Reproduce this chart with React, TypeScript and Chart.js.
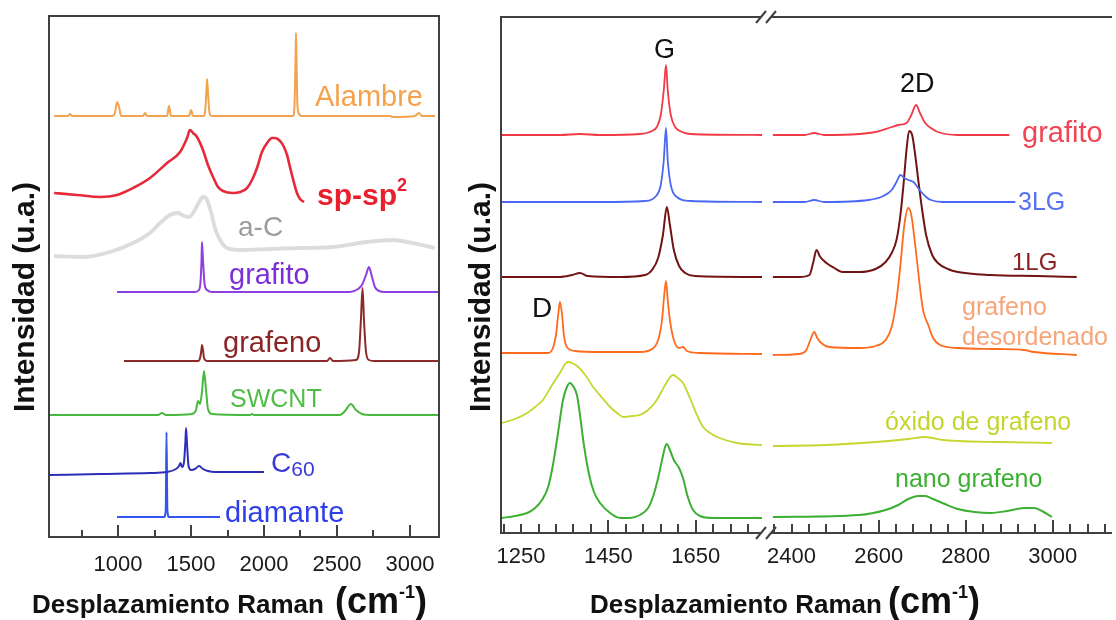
import React, { useEffect, useRef } from "react";
import { Chart, registerables } from "chart.js";
Chart.register(...registerables);

type Pt = [number, number];
const FONT = '"Liberation Sans", Arial, Helvetica, sans-serif';

// ---------- LEFT PANEL (x: Raman shift cm-1, y: stacked intensity, a.u.) ----------
const alambre: Pt[] = [[562,421],[658,421],[671,423],[685,421],[959,421],[979,424],[993,435],[1007,430],[1021,421],[1171,421],[1185,424],[1199,421],[1336,421],[1349,431],[1363,421],[1486,421],[1500,427],[1514,421],[1589,421],[1596,425],[1606,447],[1610,458],[1616,445],[1627,424],[1644,421],[2199,421],[2209,432],[2216,477],[2219,504],[2223,477],[2229,432],[2240,423],[2260,421],[2863,421],[2884,420],[3034,421],[3062,424],[3082,421],[3171,421]];
const spsp2: Pt[] = [[562,344],[719,342],[877,340],[993,342],[1103,349],[1219,359],[1336,374],[1425,385],[1473,399],[1493,407],[1514,404],[1541,400],[1582,387],[1616,372],[1651,360],[1685,350],[1719,346],[1788,344],[1836,345],[1884,349],[1918,357],[1952,369],[1986,385],[2021,394],[2055,399],[2075,399],[2103,397],[2130,392],[2158,382],[2178,370],[2206,354],[2226,344],[2247,338],[2274,335]];
const aC: Pt[] = [[562,281],[760,280],[945,285],[1103,294],[1219,304],[1288,314],[1356,322],[1411,324],[1452,321],[1486,320],[1514,324],[1548,333],[1582,340],[1610,337],[1637,325],[1664,309],[1699,297],[1747,289],[1836,287],[2041,288],[2247,289],[2473,290],[2705,295],[2884,297],[3048,293],[3171,289]];
const grafitoL: Pt[] = [[993,245],[1527,245],[1555,247],[1565,255],[1572,277],[1575,295],[1582,277],[1593,253],[1610,247],[1644,245],[2589,245],[2644,248],[2671,252],[2699,262],[2719,270],[2740,260],[2760,250],[2788,246],[2829,245],[3192,245]];
const grafenoL: Pt[] = [[1041,176],[1548,176],[1562,179],[1572,188],[1575,192],[1582,187],[1589,179],[1610,176],[2432,176],[2452,179],[2473,176],[2630,177],[2651,185],[2664,217],[2675,249],[2685,217],[2699,185],[2719,177],[2753,176],[3192,176]];
const swcnt: Pt[] = [[534,122],[1014,122],[1274,122],[1301,124],[1329,122],[1507,123],[1534,127],[1548,136],[1562,133],[1575,145],[1589,166],[1603,147],[1616,128],[1644,123],[1904,122],[1918,123],[1932,122],[2521,122],[2555,126],[2596,133],[2630,127],[2671,123],[2726,122],[3192,122]];
const c60: Pt[] = [[534,62],[877,63],[1219,64],[1336,65],[1397,68],[1418,71],[1428,74],[1438,70],[1452,75],[1462,97],[1466,109],[1473,92],[1483,71],[1500,67],[1527,68],[1555,71],[1582,68],[1616,66],[1664,65],[2000,65]];
const diamante: Pt[] = [[993,20],[1315,20],[1327,27],[1332,105],[1338,27],[1349,20],[1699,20]];

const leftTicks = [750, 1000, 1250, 1500, 1750, 2000, 2250, 2500, 2750, 3000];
const leftTickLabels = [1000, 1500, 2000, 2500, 3000];

// ---------- RIGHT PANEL, segment A (1204-1802) and segment B (2355-3136) ----------
const grafitoRA: Pt[] = [[1204,398],[1339,398],[1385,399],[1431,398],[1522,399],[1550,402],[1561,406],[1570,418],[1577,443],[1582,468],[1586,443],[1593,418],[1603,406],[1614,402],[1637,399],[1802,398]];
const grafitoRB: Pt[] = [[2357,398],[2430,398],[2452,400],[2475,398],[2555,399],[2593,401],[2630,406],[2645,408],[2664,410],[2675,418],[2686,428],[2695,420],[2707,410],[2720,405],[2736,401],[2782,398],[2900,398]];
const lg3A: Pt[] = [[1204,331],[1431,331],[1534,332],[1557,336],[1570,348],[1577,373],[1582,405],[1586,373],[1593,348],[1607,336],[1637,332],[1802,331]];
const lg3B: Pt[] = [[2357,331],[2430,331],[2452,333],[2475,331],[2577,333],[2611,337],[2630,343],[2641,351],[2650,358],[2659,355],[2668,353],[2680,351],[2689,346],[2698,341],[2709,336],[2720,333],[2748,331],[2914,331]];
const lg1A: Pt[] = [[1204,256],[1339,256],[1367,258],[1385,260],[1403,257],[1477,256],[1534,258],[1550,263],[1564,275],[1575,298],[1584,326],[1591,308],[1600,283],[1612,267],[1626,260],[1648,257],[1802,256]];
const lg1B: Pt[] = [[2357,256],[2418,256],[2441,258],[2450,271],[2457,283],[2466,276],[2480,270],[2498,265],[2516,261],[2555,261],[2593,264],[2616,271],[2630,280],[2641,293],[2650,318],[2657,348],[2664,383],[2670,402],[2677,398],[2684,378],[2691,353],[2700,323],[2709,298],[2723,278],[2736,270],[2759,264],[2782,261],[2857,258],[2964,257],[3055,256]];
const desordA: Pt[] = [[1206,180],[1312,180],[1323,185],[1330,198],[1335,218],[1339,231],[1344,218],[1348,198],[1355,186],[1374,182],[1431,181],[1522,181],[1550,184],[1564,193],[1573,213],[1577,233],[1582,252],[1586,233],[1591,213],[1600,193],[1612,185],[1621,186],[1630,182],[1660,180],[1802,179]];
const desordB: Pt[] = [[2357,178],[2418,179],[2434,183],[2443,193],[2452,201],[2459,195],[2468,190],[2486,186],[2555,185],[2593,187],[2616,193],[2630,206],[2641,233],[2650,268],[2659,308],[2668,325],[2675,318],[2684,288],[2693,253],[2702,223],[2714,208],[2725,195],[2741,188],[2782,185],[2873,184],[2934,183],[2957,181],[3055,178]];
const oxidoA: Pt[] = [[1206,110],[1236,114],[1264,120],[1282,126],[1300,133],[1321,148],[1339,160],[1351,169],[1358,171],[1367,170],[1381,166],[1397,158],[1415,146],[1436,135],[1454,126],[1470,120],[1484,116],[1504,117],[1522,118],[1541,123],[1561,133],[1580,148],[1598,158],[1609,155],[1621,150],[1637,135],[1653,118],[1667,106],[1683,100],[1699,96],[1745,90],[1802,88]];
const oxidoB: Pt[] = [[2357,87],[2480,88],[2593,91],[2668,94],[2707,96],[2748,93],[2782,92],[2873,91],[2998,90]];
const nanoA: Pt[] = [[1206,15],[1236,17],[1264,20],[1282,25],[1298,33],[1312,46],[1323,68],[1335,101],[1346,133],[1355,146],[1362,150],[1369,147],[1378,138],[1385,118],[1394,88],[1406,58],[1417,41],[1431,30],[1454,20],[1477,15],[1500,15],[1522,18],[1541,25],[1552,36],[1564,55],[1573,73],[1580,86],[1584,89],[1591,83],[1600,73],[1612,65],[1621,55],[1632,36],[1644,23],[1660,17],[1690,15],[1802,15]];
const nanoB: Pt[] = [[2357,16],[2555,18],[2616,23],[2645,28],[2668,34],[2691,37],[2707,37],[2725,34],[2752,29],[2782,24],[2820,21],[2857,20],[2895,22],[2934,25],[2957,25],[2975,22],[2998,16]];

const ticksA = [1210, 1250, 1290, 1330, 1370, 1410, 1450, 1490, 1530, 1570, 1610, 1650, 1690, 1730, 1770];
const tickLabelsA = [1250, 1450, 1650];
const majorA = [1450, 1650];
const ticksB = [2360, 2400, 2440, 2480, 2520, 2560, 2600, 2640, 2680, 2720, 2760, 2800, 2840, 2880, 2920, 2960, 3000, 3040, 3080, 3120];
const tickLabelsB = [2400, 2600, 2800, 3000];
const majorB = [2600, 2800, 3000];

// ---------- styles ----------
interface SeriesDef { data: Pt[]; color: string; width: number }
const leftSeries: SeriesDef[] = [
  { data: aC, color: "#DCDCDC", width: 3.8 },
  { data: alambre, color: "#F2A34F", width: 2 },
  { data: spsp2, color: "#E52B3A", width: 2.6 },
  { data: grafitoL, color: "#8E3FE0", width: 2 },
  { data: grafenoL, color: "#8C2A2A", width: 2 },
  { data: swcnt, color: "#48B93E", width: 2 },
  { data: c60, color: "#2E2EB8", width: 2 },
  { data: diamante, color: "#3355EE", width: 2 },
];
const rightSeriesA: SeriesDef[] = [
  { data: grafitoRA, color: "#F03A46", width: 1.8 },
  { data: lg3A, color: "#4A68F2", width: 1.8 },
  { data: lg1A, color: "#701414", width: 2 },
  { data: desordA, color: "#FF6A1C", width: 1.8 },
  { data: oxidoA, color: "#C6D62E", width: 1.8 },
  { data: nanoA, color: "#3DB034", width: 2 },
];
const rightSeriesB: SeriesDef[] = [
  { data: grafitoRB, color: "#F03A46", width: 1.8 },
  { data: lg3B, color: "#4A68F2", width: 1.8 },
  { data: desordB, color: "#FF6A1C", width: 1.8 },
  { data: lg1B, color: "#701414", width: 2 },
  { data: oxidoB, color: "#C6D62E", width: 1.8 },
  { data: nanoB, color: "#3DB034", width: 2 },
];

interface PanelProps {
  left: number; width: number; height: number;
  pad: { left: number; right: number; top: number; bottom: number };
  xMin: number; xMax: number; yMax: number;
  series: SeriesDef[];
  ticks: number[]; labels: number[]; major: number[];
  majorLen: number; minorLen: number; labelPad: number; mode: string;
}

function makeFramePlugin(p: PanelProps) {
  return {
    id: "frame",
    afterDraw(chart: any) {
      const { ctx, chartArea: a } = chart;
      const xs = chart.scales.x;
      ctx.save();
      ctx.strokeStyle = "#404040";
      ctx.lineWidth = 2;
      const seg = (x1: number, y1: number, x2: number, y2: number) => {
        ctx.beginPath(); ctx.moveTo(x1, y1); ctx.lineTo(x2, y2); ctx.stroke();
      };
      const slash = (cx: number, cy: number) => seg(cx - 5, cy + 6, cx + 5, cy - 6);
      if (p.mode === "box") {
        ctx.strokeRect(a.left, a.top, a.right - a.left, a.bottom - a.top);
      } else if (p.mode === "breakRight") {
        const r = a.right - 1;
        seg(a.left, a.top - 1, a.left, a.bottom + 1);
        seg(a.left - 1, a.top, r, a.top);
        seg(a.left - 1, a.bottom, r, a.bottom);
        slash(r, a.top); slash(r, a.bottom);
      } else {
        const l = a.left - 1;
        seg(l, a.top, a.right, a.top);
        seg(l, a.bottom, a.right, a.bottom);
        slash(l, a.top); slash(l, a.bottom);
      }
      ctx.lineWidth = 2;
      for (const v of p.ticks) {
        const px = Math.round(xs.getPixelForValue(v));
        const len = p.major.indexOf(v) >= 0 ? p.majorLen : p.minorLen;
        seg(px, a.bottom - 1, px, a.bottom - 1 - len);
      }
      ctx.restore();
    },
  };
}

function Panel(p: PanelProps) {
  const ref = useRef<HTMLCanvasElement>(null);
  useEffect(() => {
    const chart = new Chart(ref.current as HTMLCanvasElement, {
      type: "line",
      data: {
        datasets: p.series.map((s) => ({
          data: s.data.map(([x, y]) => ({ x, y })),
          borderColor: s.color,
          borderWidth: s.width,
          pointRadius: 0,
          fill: false,
          cubicInterpolationMode: "monotone",
        })),
      },
      options: {
        animation: false,
        responsive: false,
        maintainAspectRatio: false,
        devicePixelRatio: 1,
        events: [],
        layout: { padding: p.pad },
        plugins: { legend: { display: false }, tooltip: { enabled: false } },
        scales: {
          x: {
            type: "linear",
            min: p.xMin,
            max: p.xMax,
            afterBuildTicks: (s: any) => { s.ticks = p.ticks.map((v) => ({ value: v })); },
            afterFit: (s: any) => { s.height = 45; },
            grid: { display: false, drawTicks: false },
            border: { display: false },
            ticks: {
              autoSkip: false, maxRotation: 0, minRotation: 0,
              padding: p.labelPad, color: "#1a1a1a",
              font: { family: FONT, size: 22 },
              callback: (v: any) => (p.labels.includes(Number(v)) ? String(v) : ""),
            },
          } as any,
          y: { display: false, min: 0, max: p.yMax },
        },
      },
      plugins: [makeFramePlugin(p) as any],
    });
    return () => chart.destroy();
  }, []);
  return (
    <canvas ref={ref} width={p.width} height={p.height}
      style={{ position: "absolute", left: p.left, top: 0, width: p.width, height: p.height }} />
  );
}

function Lbl(props: { x: number; b: number; s: number; c: string; bold?: boolean; children: React.ReactNode }) {
  return (
    <div style={{
      position: "absolute", left: props.x, top: props.b - 0.8465 * props.s, fontSize: props.s,
      lineHeight: 1, color: props.c, fontWeight: props.bold ? "bold" : "normal", whiteSpace: "nowrap", fontFamily: FONT,
    }}>{props.children}</div>
  );
}

function YTitle({ cx, cy }: { cx: number; cy: number }) {
  return (
    <div style={{
      position: "absolute", left: cx, top: cy, transform: "translate(-50%,-50%) rotate(-90deg)",
      fontSize: 30, fontWeight: "bold", lineHeight: 1, whiteSpace: "nowrap", color: "#111", fontFamily: FONT,
    }}>Intensidad (u.a.)</div>
  );
}

function XTitle({ x1, x2, b }: { x1: number; x2: number; b: number }) {
  return (
    <>
      <Lbl x={x1} b={b} s={26} c="#111" bold>Desplazamiento Raman</Lbl>
      <Lbl x={x2} b={b} s={36} c="#111" bold>
        (cm<span style={{ fontSize: 18, position: "relative", top: -15 }}>-1</span>)
      </Lbl>
    </>
  );
}

export default function App() {
  return (
    <div style={{ position: "fixed", left: 0, top: 0, width: 1116, height: 620, background: "#fff", overflow: "hidden", fontFamily: FONT }}>
      <Panel left={0} width={460} height={620} pad={{ left: 49, right: 21, top: 16, bottom: 38 }}
        xMin={527} xMax={3199} yMax={521} series={leftSeries}
        ticks={leftTicks} labels={leftTickLabels} major={leftTickLabels}
        majorLen={11} minorLen={6} labelPad={15} mode="box" />
      <Panel left={460} width={310} height={620} pad={{ left: 41, right: 8, top: 17, bottom: 42 }}
        xMin={1204} xMax={1802} yMax={516} series={rightSeriesA}
        ticks={ticksA} labels={tickLabelsA} major={majorA}
        majorLen={12} minorLen={8} labelPad={11} mode="breakRight" />
      <Panel left={760} width={356} height={620} pad={{ left: 12, right: 0, top: 17, bottom: 42 }}
        xMin={2355} xMax={3136} yMax={516} series={rightSeriesB}
        ticks={ticksB} labels={tickLabelsB} major={majorB}
        majorLen={12} minorLen={8} labelPad={11} mode="breakLeft" />

      {/* left panel labels */}
      <Lbl x={315} b={107} s={29} c="#F4A24C">Alambre</Lbl>
      <Lbl x={317} b={205} s={30} c="#E8202E" bold>
        sp-sp<span style={{ fontSize: 18, position: "relative", top: -14 }}>2</span>
      </Lbl>
      <Lbl x={238} b={237} s={28} c="#9C9C9C">a-C</Lbl>
      <Lbl x={229} b={285} s={29} c="#7B2FD6">grafito</Lbl>
      <Lbl x={223} b={353} s={29} c="#8B2525">grafeno</Lbl>
      <Lbl x={230} b={407} s={25} c="#50BE46">SWCNT</Lbl>
      <Lbl x={271} b={473} s={28} c="#3A3AD8">
        C<span style={{ fontSize: 21, position: "relative", top: 4 }}>60</span>
      </Lbl>
      <Lbl x={225} b={523} s={29} c="#2E3FEA">diamante</Lbl>

      {/* right panel labels */}
      <Lbl x={654} b={59} s={27} c="#111">G</Lbl>
      <Lbl x={900} b={93} s={27} c="#111">2D</Lbl>
      <Lbl x={532} b={318} s={28} c="#111">D</Lbl>
      <Lbl x={1022} b={143} s={29} c="#F24452">grafito</Lbl>
      <Lbl x={1018} b={210} s={25} c="#5672F2">3LG</Lbl>
      <Lbl x={1012} b={270} s={24} c="#8A2020">1LG</Lbl>
      <Lbl x={962} b={315} s={25} c="#F7A57A">grafeno</Lbl>
      <Lbl x={962} b={345} s={25} c="#F7A57A">desordenado</Lbl>
      <Lbl x={885} b={430} s={25} c="#C3D52E">óxido de grafeno</Lbl>
      <Lbl x={895} b={487} s={25} c="#3DB034">nano grafeno</Lbl>

      <YTitle cx={24} cy={297} />
      <YTitle cx={480} cy={297} />
      <XTitle x1={32} x2={335} b={613} />
      <XTitle x1={590} x2={888} b={613} />
    </div>
  );
}
